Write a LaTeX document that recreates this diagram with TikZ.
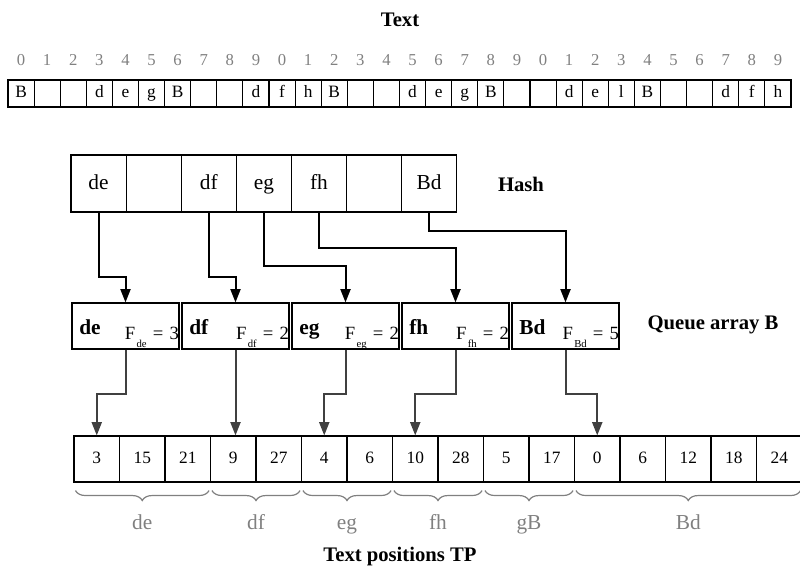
\documentclass[tikz,border=0pt]{standalone}
\usepackage{fontspec}
\setmainfont{Liberation Serif}
\usetikzlibrary{arrows.meta}
\usetikzlibrary{positioning, decorations.pathreplacing}
\colorlet{mygray}{black!50}
\colorlet{mydark}{black!75}
\newcommand\qentry[2]{\hspace*{5.5pt}{\fontsize{16}{18}\selectfont\bfseries #1}\hfill\raisebox{-3.75pt}{F\kern1pt\raisebox{-6pt}{\fontsize{8}{8}\selectfont #1} = #2}}
\tikzset{
  >={Triangle[length=10pt,width=7.5pt]},
  title/.style={font=\fontsize{15.5}{18}\selectfont\bfseries},
  idx/.style={mygray,font=\fontsize{12.5}{14}\selectfont},
  tcell/.style={draw,line width=0.8pt,minimum width=19.575pt,minimum height=20.25pt,inner sep=0pt,
    text height=8.5pt,text depth=2.5pt,font=\fontsize{13}{15}\selectfont},
  hcell/.style={draw,line width=0.8pt,minimum width=41.3pt,minimum height=42.75pt,inner sep=0pt,
    text height=12pt,text depth=2.5pt,font=\fontsize{16}{18}\selectfont},
  qbox/.style={draw,line width=0.8pt,text width=80.25pt,minimum height=34.5pt,inner xsep=0pt,inner ysep=0pt,
    text height=12pt,text depth=0pt,font=\fontsize{14}{16}\selectfont},
  pcell/.style={draw,line width=0.8pt,minimum width=34.125pt,minimum height=34.5pt,inner sep=0pt,
    text height=9pt,text depth=2.5pt,font=\fontsize{13}{15}\selectfont},
  link/.style={->,line width=1.5pt,black},
  link back/.style={->,line width=1.5pt,mydark},
  brace/.style={mygray,line width=0.9pt,decorate,decoration={brace,mirror,amplitude=7.5pt}},
  glabel/.style={pos=0.5,yshift=-25pt,mygray,text height=11pt,text depth=3pt,font=\fontsize{16}{18}\selectfont}
}

\begin{document}
\begin{tikzpicture}[x=0.75pt,y=-0.75pt]
    \useasboundingbox (0,0) rectangle (800,574);

    % Text row with its positions
    \node[title] (ttext) at (400,20) {Text};
    \foreach \c [count=\i from 0] in {B,{},{},d,e,g,B,{},{},d,f,h,B,{},{},d,e,g,B,{},{},d,e,l,B,{},{},d,f,h} {
        \pgfmathtruncatemacro\d{mod(\i,10)}
        \node[idx] (n\i) at ({21.05+26.1*\i},60) {\d};
        \node[tcell] (t\i) at ({21.05+26.1*\i},93.5) {\c};
    }

    % Hash table
    \foreach \c [count=\i] in {de,{},df,eg,fh,{},Bd}
        \node[hcell] (h\i) at ({98.55+55.1*(\i-1)},183.5) {\c};
    \node[title] (thash) at (521,184) {Hash};

    % Queue array B
    \foreach \c/\f [count=\i] in {de/3,df/2,eg/2,fh/2,Bd/5}
        \node[qbox] (q\i) at ({125.5+110*(\i-1)},326) {\qentry{\c}{\f}};
    \node[title] (tqueue) at (713,325) {Queue array B};

    % Text positions
    \foreach \v [count=\i] in {3,15,21,9,27,4,6,10,28,5,17,0,6,12,18,24}
        \node[pcell] (p\i) at ({96.75+45.5*(\i-1)},459) {\v};
    \node[title] (tpos) at (400,557) {Text positions TP};

    % Hash to queue
    \draw[link] (h1.south) -- ++(0,64) -| (q1.north);
    \draw[link] (h3.south) -- ++(0,64) -| (q2.north);
    \draw[link] (h4.south) -- ++(0,53) -| (q3.north);
    \draw[link] (h5.south) -- ++(0,35) -| (q4.north);
    \draw[link] (h7.south) -- ++(0,18) -| (q5.north);

    % Queue to positions
    \draw[link back] (q1.south) -- ++(0,44) -| (p1.north);
    \draw[link back] (q2.south) -- (q2.south |- p4.north);
    \draw[link back] (q3.south) -- ++(0,44) -| (p6.north);
    \draw[link back] (q4.south) -- ++(0,44) -| (p8.north);
    \draw[link back] (q5.south) -- ++(0,44) -| (p12.north);

    % Groups
    \foreach \a/\b/\l in {1/3/de,4/5/df,6/7/eg,8/9/fh,10/11/gB,12/16/Bd}
        \draw[brace] ([xshift=1.5pt,yshift=-6pt]p\a.south west) -- ([xshift=-1.5pt,yshift=-6pt]p\b.south east)
            node[glabel] (g\l) {\l};
\end{tikzpicture}
\end{document}
